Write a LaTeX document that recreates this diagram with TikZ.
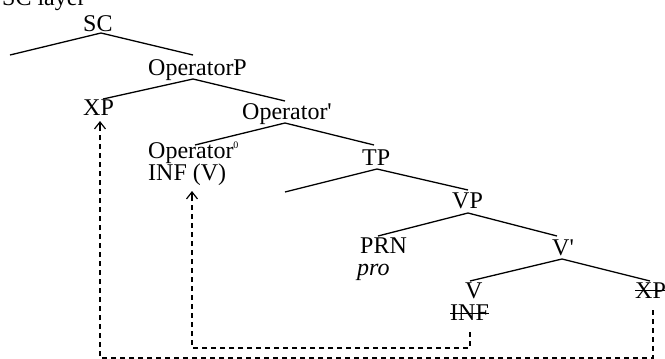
\documentclass[tikz,border=0pt]{standalone}
\usepackage{fontspec}
\setmainfont{Liberation Serif}[Ligatures=TeXOff]
\usetikzlibrary{arrows.meta}
\begin{document}
\begin{tikzpicture}[x=1pt,y=-1pt,
  lbl/.style={anchor=base west,inner sep=0pt,font=\fontsize{24}{26}\selectfont},
  branch/.style={line width=1.3pt},
  movedash/.style={line width=1.1pt,dash pattern=on 5pt off 4pt},
  movetip/.style={-{Straight Barb[length=7pt,width=11pt,line width=1.2pt]}},
  strike/.style={line width=1pt}]
\useasboundingbox (0,0) rectangle (665,359);
% labels
\node[lbl] (layer) at (2,5) {SC layer};
\node[lbl] (sc) at (83,31) {SC};
\node[lbl] (opP) at (148,75) {OperatorP};
\node[lbl] (xp1) at (83,115) {XP};
\node[lbl] (opbar) at (242,119) {Operator'};
\node[lbl] (ophead) at (148,158) {Operator\textsuperscript{\fontsize{10}{10}\selectfont 0}};
\node[lbl] (infv) at (148,180) {INF (V)};
\node[lbl] (tp) at (362,165) {TP};
\node[lbl] (vp) at (452,208) {VP};
\node[lbl] (prn) at (360,253) {PRN};
\node[lbl] (pro) at (357,275) {\itshape pro};
\node[lbl] (vbar) at (552,255) {V'};
\node[lbl] (v) at (465,298) {V};
\node[lbl] (inf) at (450,320) {INF};
\node[lbl] (xp2) at (635,298) {XP};
% strike-throughs
\draw[strike] ([yshift=7pt]inf.base west) -- ([yshift=7pt]inf.base east);
\draw[strike] ([yshift=8pt]xp2.base west) -- ([yshift=8pt]xp2.base east);
% branch points
\coordinate (a1) at (101,33);  \coordinate (a1l) at (10,55);   \coordinate (a1r) at (193,55);
\coordinate (a2) at (193,79);  \coordinate (a2l) at (103,99);  \coordinate (a2r) at (285,101);
\coordinate (a3) at (285,123); \coordinate (a3l) at (195,145); \coordinate (a3r) at (374,145);
\coordinate (a4) at (377,169); \coordinate (a4l) at (285,192); \coordinate (a4r) at (468,190);
\coordinate (a5) at (468,213); \coordinate (a5l) at (378,236); \coordinate (a5r) at (557,236);
\coordinate (a6) at (562,259); \coordinate (a6l) at (470,281); \coordinate (a6r) at (650,281);
\foreach \n in {1,...,6}{
  \draw[branch] (a\n l) -- (a\n) -- (a\n r);
}
% movement paths
\coordinate (m1s) at (470,332); \coordinate (m1c) at (192,348); \coordinate (m1t) at (192,191);
\coordinate (m2s) at (653,310); \coordinate (m2c) at (100,358); \coordinate (m2t) at (100,121);
\draw[movedash] (m1s) |- (m1c) -- ([yshift=-4pt]m1t);
\draw[movedash] (m2s) |- (m2c) -- ([yshift=-4pt]m2t);
\draw[movetip,line width=1.1pt] ([yshift=-5pt]m1t) -- (m1t);
\draw[movetip,line width=1.1pt] ([yshift=-5pt]m2t) -- (m2t);
\end{tikzpicture}
\end{document}
